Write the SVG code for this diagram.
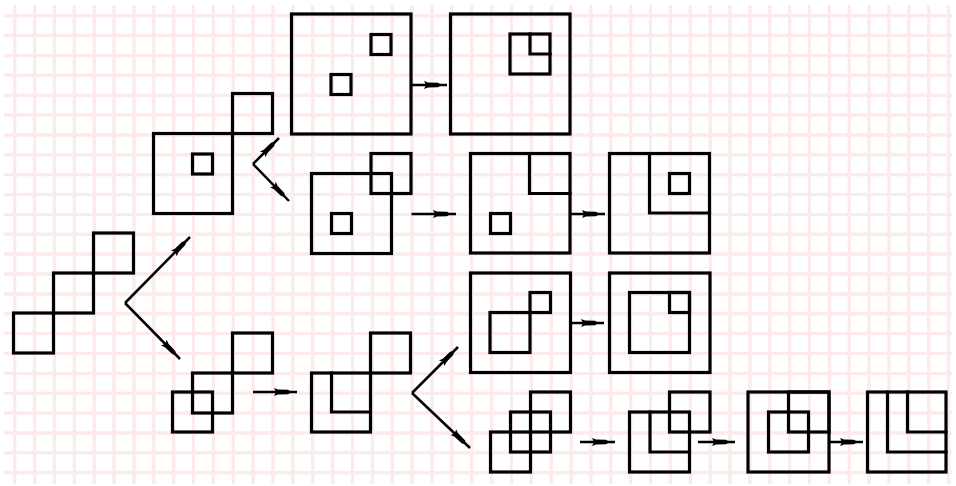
<svg xmlns="http://www.w3.org/2000/svg" width="956" height="486" viewBox="0 0 956 486">
<defs>
<style>
.g1{stroke:#fdeaea;stroke-width:3;fill:none}
.g2{stroke:#f9d2d2;stroke-width:1;fill:none}
.s{fill:none;stroke:#000;stroke-width:3.2;stroke-linecap:square}
.a{fill:none;stroke:#000;stroke-width:2.5;marker-end:url(#ah)}
</style>
<marker id="ah" markerUnits="userSpaceOnUse" viewBox="-26 -6 28 12" markerWidth="28" markerHeight="12" refX="0" refY="0" orient="auto">
<path d="M-23,-4 L-19,-2.5 L-9,-2.2 L-5.5,0 L-9,2.2 L-19,2.5 L-23,4 L-21,0 Z" fill="#000"/>
</marker>
</defs>
<rect width="956" height="486" fill="#fff"/>
<g id="grid">
<path id="gridpath" class="g1" d="M14.7,5V484M34.6,5V484M54.4,5V484M74.3,5V484M94.2,5V484M114.1,5V484M133.9,5V484M153.8,5V484M173.7,5V484M193.5,5V484M213.4,5V484M233.3,5V484M253.1,5V484M273,5V484M292.9,5V484M312.8,5V484M332.6,5V484M352.5,5V484M372.4,5V484M392.2,5V484M412.1,5V484M432,5V484M451.8,5V484M471.7,5V484M491.6,5V484M511.5,5V484M531.3,5V484M551.2,5V484M571.1,5V484M590.9,5V484M610.8,5V484M630.7,5V484M650.5,5V484M670.4,5V484M690.3,5V484M710.2,5V484M730,5V484M749.9,5V484M769.8,5V484M789.6,5V484M809.5,5V484M829.4,5V484M849.2,5V484M869.1,5V484M889,5V484M908.9,5V484M928.7,5V484M948.6,5V484M4,15.7H952M4,35.6H952M4,55.4H952M4,75.3H952M4,95.2H952M4,115.1H952M4,134.9H952M4,154.8H952M4,174.7H952M4,194.5H952M4,214.4H952M4,234.3H952M4,254.1H952M4,274H952M4,293.9H952M4,313.8H952M4,333.6H952M4,353.5H952M4,373.4H952M4,393.2H952M4,413.1H952M4,433H952M4,452.8H952M4,472.7H952"/>
<use href="#gridpath" class="g2"/>
</g>
<g id="s0"><rect class="s" x="13.5" y="313" width="40" height="40"/><rect class="s" x="53.5" y="273" width="40" height="40"/><rect class="s" x="93.5" y="233" width="40" height="40"/></g>
<g id="s1"><rect class="s" x="153.5" y="133.5" width="79" height="80"/><rect class="s" x="232.5" y="93.5" width="40" height="40"/><rect class="s" x="192.5" y="154" width="20" height="20"/></g>
<g id="t1"><rect class="s" x="291.5" y="14" width="119.5" height="120"/><rect class="s" x="371" y="34.5" width="20" height="20"/><rect class="s" x="331" y="74.5" width="20" height="20"/></g>
<g id="t2"><rect class="s" x="450.5" y="14" width="119.5" height="120"/><rect class="s" x="510" y="34" width="40" height="40"/><path class="s" d="M530,34V54H550"/></g>
<g id="m1"><rect class="s" x="311.5" y="173.5" width="80" height="80"/><rect class="s" x="371" y="153.5" width="40" height="40"/><rect class="s" x="331.5" y="213.5" width="20" height="20"/></g>
<g id="m2"><rect class="s" x="470.5" y="153.5" width="99.5" height="99.5"/><path class="s" d="M529.5,153.5V193.5H570"/><rect class="s" x="490.5" y="213.5" width="20" height="20"/></g>
<g id="m3"><rect class="s" x="609.5" y="153.5" width="100" height="99.5"/><path class="s" d="M649.5,153.5V213H709.5"/><rect class="s" x="669.5" y="173.5" width="20" height="20"/></g>
<g id="b1"><rect class="s" x="232.5" y="333" width="40" height="40"/><rect class="s" x="192.5" y="373" width="40" height="40"/><rect class="s" x="172.5" y="392" width="40" height="40"/></g>
<g id="b2"><rect class="s" x="370.5" y="333" width="40" height="40"/><rect class="s" x="311.5" y="373" width="59" height="59"/><path class="s" d="M331.5,373V412H370.5"/></g>
<g id="r1"><rect class="s" x="470.5" y="273" width="100" height="99.5"/><rect class="s" x="490" y="312.5" width="40" height="40"/><rect class="s" x="530" y="292.5" width="20.5" height="20"/></g>
<g id="r2"><rect class="s" x="609.5" y="273" width="100.5" height="99.5"/><rect class="s" x="629.5" y="292.5" width="60" height="60"/><rect class="s" x="669.5" y="292.5" width="20" height="20"/></g>
<g id="q1"><rect class="s" x="530.5" y="392" width="40" height="40"/><rect class="s" x="510.5" y="412" width="40" height="40"/><rect class="s" x="490.5" y="432" width="40" height="40"/></g>
<g id="q2"><rect class="s" x="669.5" y="392" width="40.5" height="40"/><rect class="s" x="629.5" y="412" width="60" height="60"/><path class="s" d="M650,412V452H689.5"/></g>
<g id="q3"><rect class="s" x="748" y="392" width="81" height="80"/><rect class="s" x="768.5" y="412" width="40" height="40"/><rect class="s" x="788.5" y="392" width="40.5" height="40"/></g>
<g id="q4"><rect class="s" x="867.5" y="392" width="78.5" height="80"/><path class="s" d="M887.5,392V452H946"/><path class="s" d="M907.5,392V432H946"/></g>
<g id="connectors">
<path class="a" d="M125,303L190,237"/>
<path class="a" d="M125,303L180,359"/>
<path class="a" d="M253,164L279,138"/>
<path class="a" d="M253,164L289,201"/>
<path class="a" d="M411,85H447"/>
<path class="a" d="M411.5,214H456"/>
<path class="a" d="M571,214H605"/>
<path class="a" d="M253,392H297"/>
<path class="a" d="M412,393L458,347"/>
<path class="a" d="M412,393L470,448"/>
<path class="a" d="M571,323H604"/>
<path class="a" d="M580,442H615"/>
<path class="a" d="M698,442H735"/>
<path class="a" d="M829,442H863"/>
</g>
</svg>
